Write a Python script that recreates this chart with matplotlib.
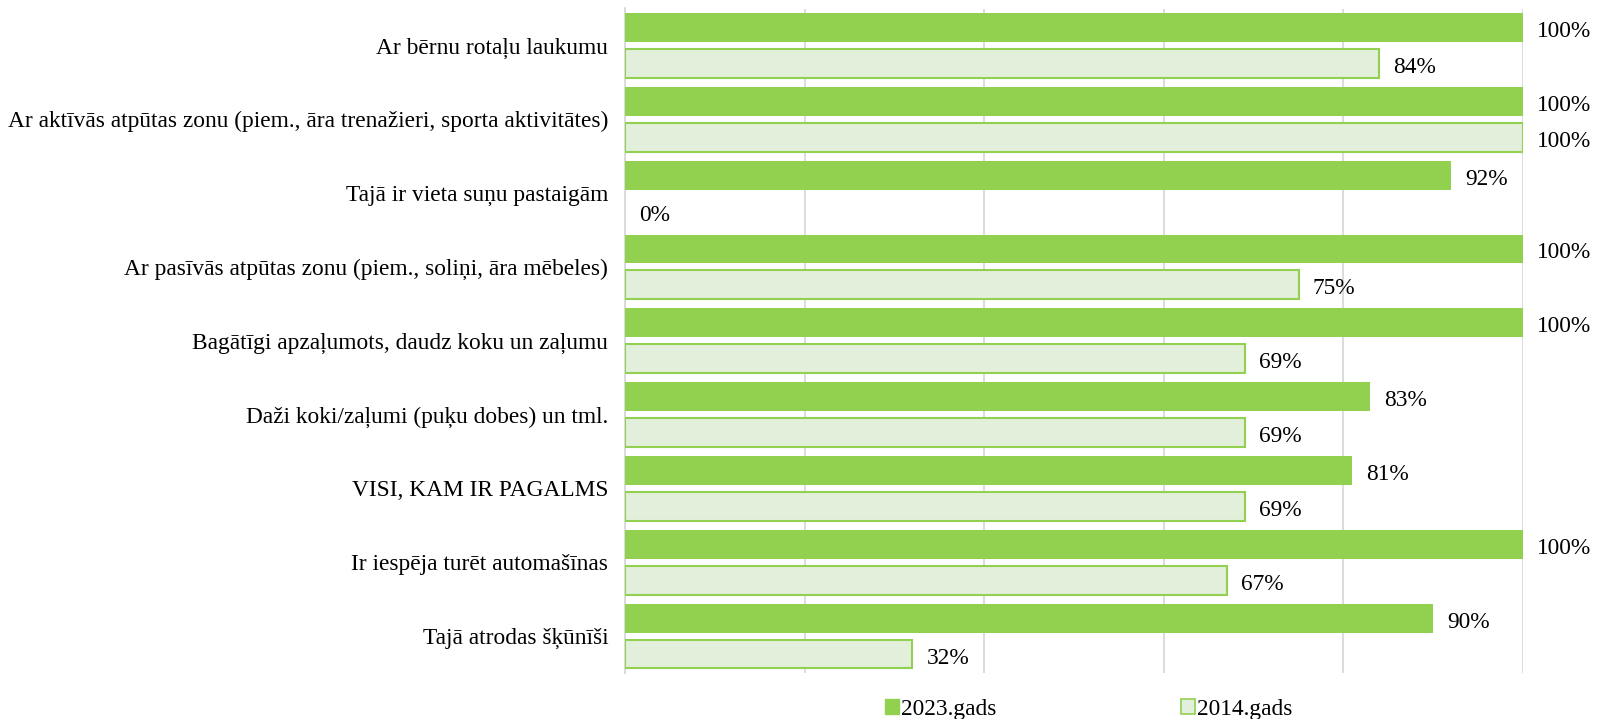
import numpy as np
import matplotlib
matplotlib.use("Agg")
import matplotlib.pyplot as plt
from matplotlib.patches import Patch

plt.rcParams['font.family'] = ['Liberation Serif', 'DejaVu Serif']

categories = [
    "Ar bērnu rotaļu laukumu",
    "Ar aktīvās atpūtas zonu (piem., āra trenažieri, sporta aktivitātes)",
    "Tajā ir vieta suņu pastaigām",
    "Ar pasīvās atpūtas zonu (piem., soliņi, āra mēbeles)",
    "Bagātīgi apzaļumots, daudz koku un zaļumu",
    "Daži koki/zaļumi (puķu dobes) un tml.",
    "VISI, KAM IR PAGALMS",
    "Ir iespēja turēt automašīnas",
    "Tajā atrodas šķūnīši",
]
vals_2023 = [100, 100, 92, 100, 100, 83, 81, 100, 90]
vals_2014 = [84, 100, 0, 75, 69, 69, 69, 67, 32]
series_names = ["2023.gads", "2014.gads"]

dark = "#92D050"
light = "#E2EFDA"
fs = 16.8

fig = plt.figure(figsize=(15.98, 7.19), dpi=100)
ax = fig.add_axes([625 / 1598, 1 - 673 / 719, (1523 - 625) / 1598, (673 - 8.5) / 719])

y = np.arange(len(categories))
h = 0.39
off = 0.243
b1 = ax.barh(y - off, vals_2023, height=h, color=dark, edgecolor='none', zorder=3)
b2 = ax.barh(y + off, vals_2014, height=h, color=light, edgecolor=dark, linewidth=1.5, zorder=3)
for bar, v in zip(b2, vals_2014):
    if v == 0:
        bar.set_linewidth(0)

for bars, vals in ((b1, vals_2023), (b2, vals_2014)):
    for bar, v in zip(bars, vals):
        ax.annotate(f"{v}%", (v, bar.get_y() + bar.get_height() / 2),
                    xytext=(14, -4), textcoords='offset pixels',
                    va='center', ha='left', fontsize=fs, annotation_clip=False)

ax.set_xlim(0, 100)
ax.set_ylim(len(categories) - 0.5, -0.5)
ax.set_xticks(np.arange(0, 101, 20))
ax.set_xticklabels([])
ax.tick_params(axis='x', length=0)
ax.tick_params(axis='y', length=0, pad=12, labelsize=fs)
ax.set_yticks(y)
ax.set_yticklabels(categories)
ax.grid(axis='x', color='#D9D9D9', linewidth=1.3, zorder=0)
for s in ['top', 'right', 'bottom']:
    ax.spines[s].set_visible(False)
ax.spines['left'].set_color('#D9D9D9')
ax.spines['left'].set_linewidth(1.3)

handles = [Patch(facecolor=dark, edgecolor=dark, linewidth=1),
           Patch(facecolor=light, edgecolor=dark, linewidth=1.2)]
fig.legend(handles, series_names, loc='center', bbox_to_anchor=(1089 / 1598, 1 - 709 / 719),
           ncol=2, frameon=False, fontsize=fs, handlelength=0.6, handleheight=0.6,
           handletextpad=0.1, columnspacing=7.9, borderaxespad=0)

fig.savefig("out.png", dpi=100)
